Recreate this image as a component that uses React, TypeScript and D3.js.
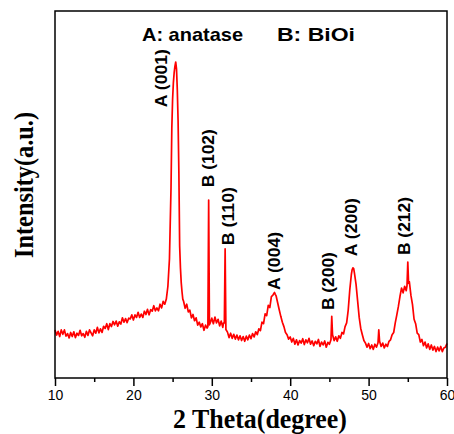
import React, { useEffect, useRef } from "react";
import * as d3 from "d3";

// 2θ (degree) / intensity (a.u.)
const twoTheta = [
  10.0, 10.2, 10.4, 10.6, 10.8, 11.0, 11.2, 11.4, 11.6, 11.8,
  12.0, 12.2, 12.4, 12.6, 12.8, 13.0, 13.2, 13.4, 13.6, 13.8,
  14.0, 14.2, 14.4, 14.6, 14.8, 15.0, 15.2, 15.4, 15.6, 15.8,
  16.0, 16.2, 16.4, 16.6, 16.8, 17.0, 17.2, 17.4, 17.6, 17.8,
  18.0, 18.2, 18.4, 18.6, 18.8, 19.0, 19.2, 19.4, 19.6, 19.8,
  20.0, 20.2, 20.4, 20.6, 20.8, 21.0, 21.2, 21.4, 21.6, 21.8,
  22.0, 22.2, 22.4, 22.6, 22.8, 23.0, 23.2, 23.4, 23.6, 23.8,
  24.0, 24.2, 24.4, 24.6, 24.8, 24.9, 25.0, 25.1, 25.2, 25.3,
  25.4, 25.5, 25.6, 25.7, 25.8, 25.9, 26.0, 26.1, 26.2, 26.3,
  26.4, 26.6, 26.8, 27.0, 27.2, 27.4, 27.6, 27.8, 28.0, 28.2,
  28.4, 28.6, 28.8, 29.0, 29.2, 29.4, 29.5, 29.6, 29.7, 29.8,
  30.0, 30.2, 30.4, 30.6, 30.8, 31.0, 31.2, 31.4, 31.5, 31.6,
  31.7, 31.8, 32.0, 32.2, 32.4, 32.6, 32.8, 33.0, 33.2, 33.4,
  33.6, 33.8, 34.0, 34.2, 34.4, 34.6, 34.8, 35.0, 35.2, 35.4,
  35.6, 35.8, 36.0, 36.2, 36.4, 36.6, 36.8, 37.0, 37.2, 37.4,
  37.6, 37.8, 38.0, 38.1, 38.2, 38.4, 38.6, 38.8, 39.0, 39.2,
  39.4, 39.6, 39.8, 40.0, 40.2, 40.4, 40.6, 40.8, 41.0, 41.2,
  41.4, 41.6, 41.8, 42.0, 42.2, 42.4, 42.6, 42.8, 43.0, 43.2,
  43.4, 43.6, 43.8, 44.0, 44.2, 44.4, 44.6, 44.8, 45.0, 45.2,
  45.3, 45.4, 45.6, 45.8, 46.0, 46.2, 46.4, 46.6, 46.8, 47.0,
  47.2, 47.4, 47.6, 47.8, 47.9, 48.0, 48.1, 48.2, 48.4, 48.6,
  48.8, 49.0, 49.2, 49.4, 49.6, 49.8, 50.0, 50.2, 50.4, 50.6,
  50.8, 51.0, 51.2, 51.3, 51.4, 51.6, 51.8, 52.0, 52.2, 52.4,
  52.6, 52.8, 53.0, 53.2, 53.4, 53.6, 53.8, 54.0, 54.2, 54.4,
  54.6, 54.8, 54.9, 55.0, 55.1, 55.2, 55.4, 55.6, 55.8, 56.0,
  56.2, 56.4, 56.6, 56.8, 57.0, 57.2, 57.4, 57.6, 57.8, 58.0,
  58.2, 58.4, 58.6, 58.8, 59.0, 59.2, 59.4, 59.6, 59.8, 60.0
];

const intensity = [
  131, 117, 127, 113, 131, 119, 131, 114, 121, 109,
  124, 113, 126, 110, 122, 116, 130, 115, 121, 111,
  127, 116, 131, 123, 115, 131, 122, 138, 123, 134,
  124, 141, 135, 148, 132, 148, 140, 154, 145, 155,
  141, 153, 147, 164, 152, 162, 151, 163, 161, 172,
  158, 172, 165, 179, 165, 174, 165, 182, 173, 187,
  172, 186, 182, 197, 183, 191, 183, 201, 191, 209,
  201, 215, 250, 325, 520, 680, 760, 805, 832, 850,
  861, 842, 785, 700, 560, 360, 300, 260, 235, 215,
  209, 190, 201, 180, 185, 164, 173, 156, 164, 144,
  152, 139, 148, 130, 144, 136, 140, 485, 145, 150,
  163, 148, 166, 150, 160, 142, 155, 138, 150, 150,
  352, 132, 125, 110, 122, 108, 119, 106, 117, 104,
  115, 102, 113, 100, 114, 104, 117, 107, 121, 112,
  126, 118, 134, 129, 152, 148, 175, 170, 198, 192,
  222, 226, 233, 228, 224, 205, 186, 168, 152, 140,
  124, 118, 106, 112, 98, 108, 92, 104, 90, 102,
  95, 107, 91, 104, 96, 108, 92, 101, 88, 100,
  93, 105, 86, 98, 90, 101, 84, 97, 92, 104,
  168, 118, 102, 112, 100, 115, 108, 124, 120, 140,
  150, 185, 240, 282, 295, 300, 298, 285, 255, 210,
  165, 135, 118, 102, 95, 84, 94, 80, 90, 78,
  92, 84, 96, 131, 100, 86, 95, 82, 92, 86,
  100, 104, 118, 124, 150, 172, 195, 222, 245, 232,
  250, 238, 252, 316, 258, 262, 225, 200, 160, 148,
  122, 118, 98, 105, 88, 98, 82, 93, 78, 90,
  76, 86, 72, 84, 74, 86, 72, 82, 84, 94
];

const majorTicks = [10, 20, 30, 40, 50, 60];
const minorTicks = [15, 25, 35, 45, 55];

// peak labels: text, 2θ and intensity where the rotated text starts
const peakLabels = ["A (001)", "B (102)", "B (110)", "A (004)", "B (200)", "A (200)", "B (212)"];
const labelTheta = [24.29, 30.28, 32.83, 38.7, 45.59, 48.52, 55.28];
const labelIntensity = [738, 520, 362, 240, 185, 332, 335];

const phaseLegend = ["A: anatase", "B: BiOi"];

export default function App() {
  const ref = useRef<SVGSVGElement>(null);

  useEffect(() => {
    const el = ref.current;
    if (!el) return;
    const svg = d3.select(el);
    svg.selectAll("*").remove();

    const margin = { top: 11, right: 7, bottom: 56, left: 55 };
    const W = 454, H = 434;
    const width = W - margin.left - margin.right;
    const height = H - margin.top - margin.bottom;

    const x = d3.scaleLinear().domain([10, 60]).range([0, width]);
    const y = d3.scaleLinear().domain([0, 1000]).range([height, 0]);

    const g = svg.append("g").attr("transform", `translate(${margin.left},${margin.top})`);

    const pts = twoTheta.map((t, i) => [t, intensity[i]] as [number, number]);
    const line = d3.line<[number, number]>().x(d => x(d[0])).y(d => y(d[1]));

    g.append("path")
      .datum(pts)
      .attr("d", line)
      .attr("fill", "none")
      .attr("stroke", "#ff0000")
      .attr("stroke-width", 1.7)
      .attr("stroke-linejoin", "round");

    // frame
    g.append("rect")
      .attr("width", width)
      .attr("height", height)
      .attr("fill", "none")
      .attr("stroke", "#000")
      .attr("stroke-width", 1.5);

    const xAxis = g.append("g")
      .attr("transform", `translate(0,${height})`)
      .call(d3.axisBottom(x).tickValues(majorTicks).tickSize(8).tickPadding(4).tickFormat(d3.format("d")));
    xAxis.select(".domain").remove();
    xAxis.selectAll("line").attr("stroke-width", 1.5);
    xAxis.selectAll("text")
      .attr("font-family", "'Liberation Sans', Arial, sans-serif")
      .attr("font-size", 14)
      .attr("fill", "#000");

    const xMinor = g.append("g")
      .attr("transform", `translate(0,${height})`)
      .call(d3.axisBottom(x).tickValues(minorTicks).tickSize(4).tickFormat(() => ""));
    xMinor.select(".domain").remove();
    xMinor.selectAll("line").attr("stroke-width", 1.5);

    // peak labels
    peakLabels.forEach((lab, i) => {
      const px = x(labelTheta[i]);
      const py = y(labelIntensity[i]);
      g.append("text")
        .attr("transform", `translate(${px},${py}) rotate(-90)`)
        .attr("font-family", "'Liberation Sans', Arial, sans-serif")
        .attr("font-weight", "bold")
        .attr("font-size", 16)
        .attr("textLength", 58)
        .attr("lengthAdjust", "spacingAndGlyphs")
        .attr("fill", "#000")
        .text(lab);
    });

    // phase legend
    const legendX = [142 - margin.left, 277 - margin.left];
    const legendW = [101, 78];
    phaseLegend.forEach((t, i) => {
      g.append("text")
        .attr("x", legendX[i])
        .attr("y", 41 - margin.top)
        .attr("font-family", "'Liberation Sans', Arial, sans-serif")
        .attr("font-weight", "bold")
        .attr("font-size", 19)
        .attr("textLength", legendW[i])
        .attr("lengthAdjust", "spacingAndGlyphs")
        .attr("fill", "#000")
        .text(t);
    });

    // axis titles
    svg.append("text")
      .attr("x", 173)
      .attr("y", 428)
      .attr("font-family", "'Liberation Serif', 'Times New Roman', serif")
      .attr("font-weight", "bold")
      .attr("font-size", 28)
      .attr("textLength", 174)
      .attr("lengthAdjust", "spacingAndGlyphs")
      .attr("fill", "#000")
      .text("2 Theta(degree)");

    svg.append("text")
      .attr("transform", "translate(33,258) rotate(-90)")
      .attr("font-family", "'Liberation Serif', 'Times New Roman', serif")
      .attr("font-weight", "bold")
      .attr("font-size", 28)
      .attr("textLength", 146)
      .attr("lengthAdjust", "spacingAndGlyphs")
      .attr("fill", "#000")
      .text("Intensity(a.u.)");
  }, []);

  return (
    <svg
      ref={ref}
      width={454}
      height={434}
      style={{ position: "absolute", left: 0, top: 0, background: "#fff" }}
    />
  );
}
